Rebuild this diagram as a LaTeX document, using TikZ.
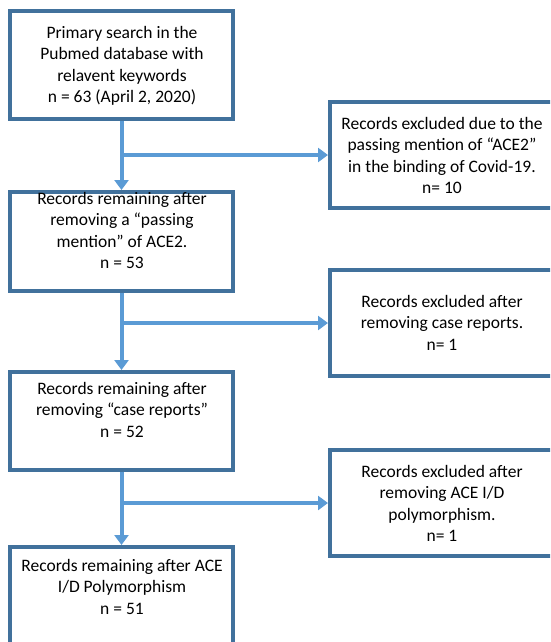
\documentclass[tikz,border=0pt]{standalone}
\usepackage{fontspec}
\setmainfont{Carlito}
\usetikzlibrary{arrows.meta}
\definecolor{boxblue}{HTML}{41719C}
\definecolor{arrblue}{HTML}{5B9BD5}
\begin{document}
\begin{tikzpicture}[x=1pt,y=-1pt,
  box/.style={draw=boxblue,line width=4pt,fill=white,rectangle,inner sep=0pt},
  txt/.style={anchor=north,align=center,inner sep=0pt,font=\fontsize{17.5}{21.5}\selectfont},
  flow/.style={draw=arrblue,line width=4pt,-{Triangle[width=14pt,length=10pt]}}]
\useasboundingbox (0,0) rectangle (550,642);
\clip (0,0) rectangle (550,642);
% left boxes
\node[box,minimum width=223pt,minimum height=108pt] (b1) at (121.5,65) {};
\node[box,minimum width=223pt,minimum height=99pt] (b2) at (121.5,241.5) {};
\node[box,minimum width=223pt,minimum height=98pt] (b3) at (121.5,421) {};
\node[box,minimum width=223pt,minimum height=113pt] (b4) at (121.5,603.5) {};
% right boxes
\node[box,minimum width=230pt,minimum height=106pt] (r1) at (445,155) {};
\node[box,minimum width=230pt,minimum height=106pt] (r2) at (445,323) {};
\node[box,minimum width=230pt,minimum height=106pt] (r3) at (445,503) {};
% texts
\node[txt] (t1) at (122,26) {Primary search in the\\Pubmed database with\\relavent keywords\\n = 63 (April 2, 2020)};
\node[txt] (t2) at (122,192) {Records remaining after\\removing a “passing\\mention” of ACE2.\\n = 53};
\node[txt] (t3) at (122,382) {Records remaining after\\removing “case reports”\\n = 52};
\node[txt] (t4) at (122,559) {Records remaining after ACE\\I/D Polymorphism\\n = 51};
\node[txt] (u1) at (442,117) {Records excluded due to the\\passing mention of “ACE2”\\in the binding of Covid-19.\\n= 10};
\node[txt] (u2) at (442,295) {Records excluded after\\removing case reports.\\n= 1};
\node[txt] (u3) at (442,465) {Records excluded after\\removing ACE I/D\\polymorphism.\\n= 1};
% connectors
\coordinate (j1) at (b1.south |- r1.west);
\coordinate (j2) at (b2.south |- r2.west);
\coordinate (j3) at (b3.south |- r3.west);
\draw[flow] (b1.south) -- (b2.north);
\draw[flow] (j1) -- (r1.west);
\draw[flow] (b2.south) -- (b3.north);
\draw[flow] (j2) -- (r2.west);
\draw[flow] (b3.south) -- (b4.north);
\draw[flow] (j3) -- (r3.west);
\end{tikzpicture}
\end{document}
